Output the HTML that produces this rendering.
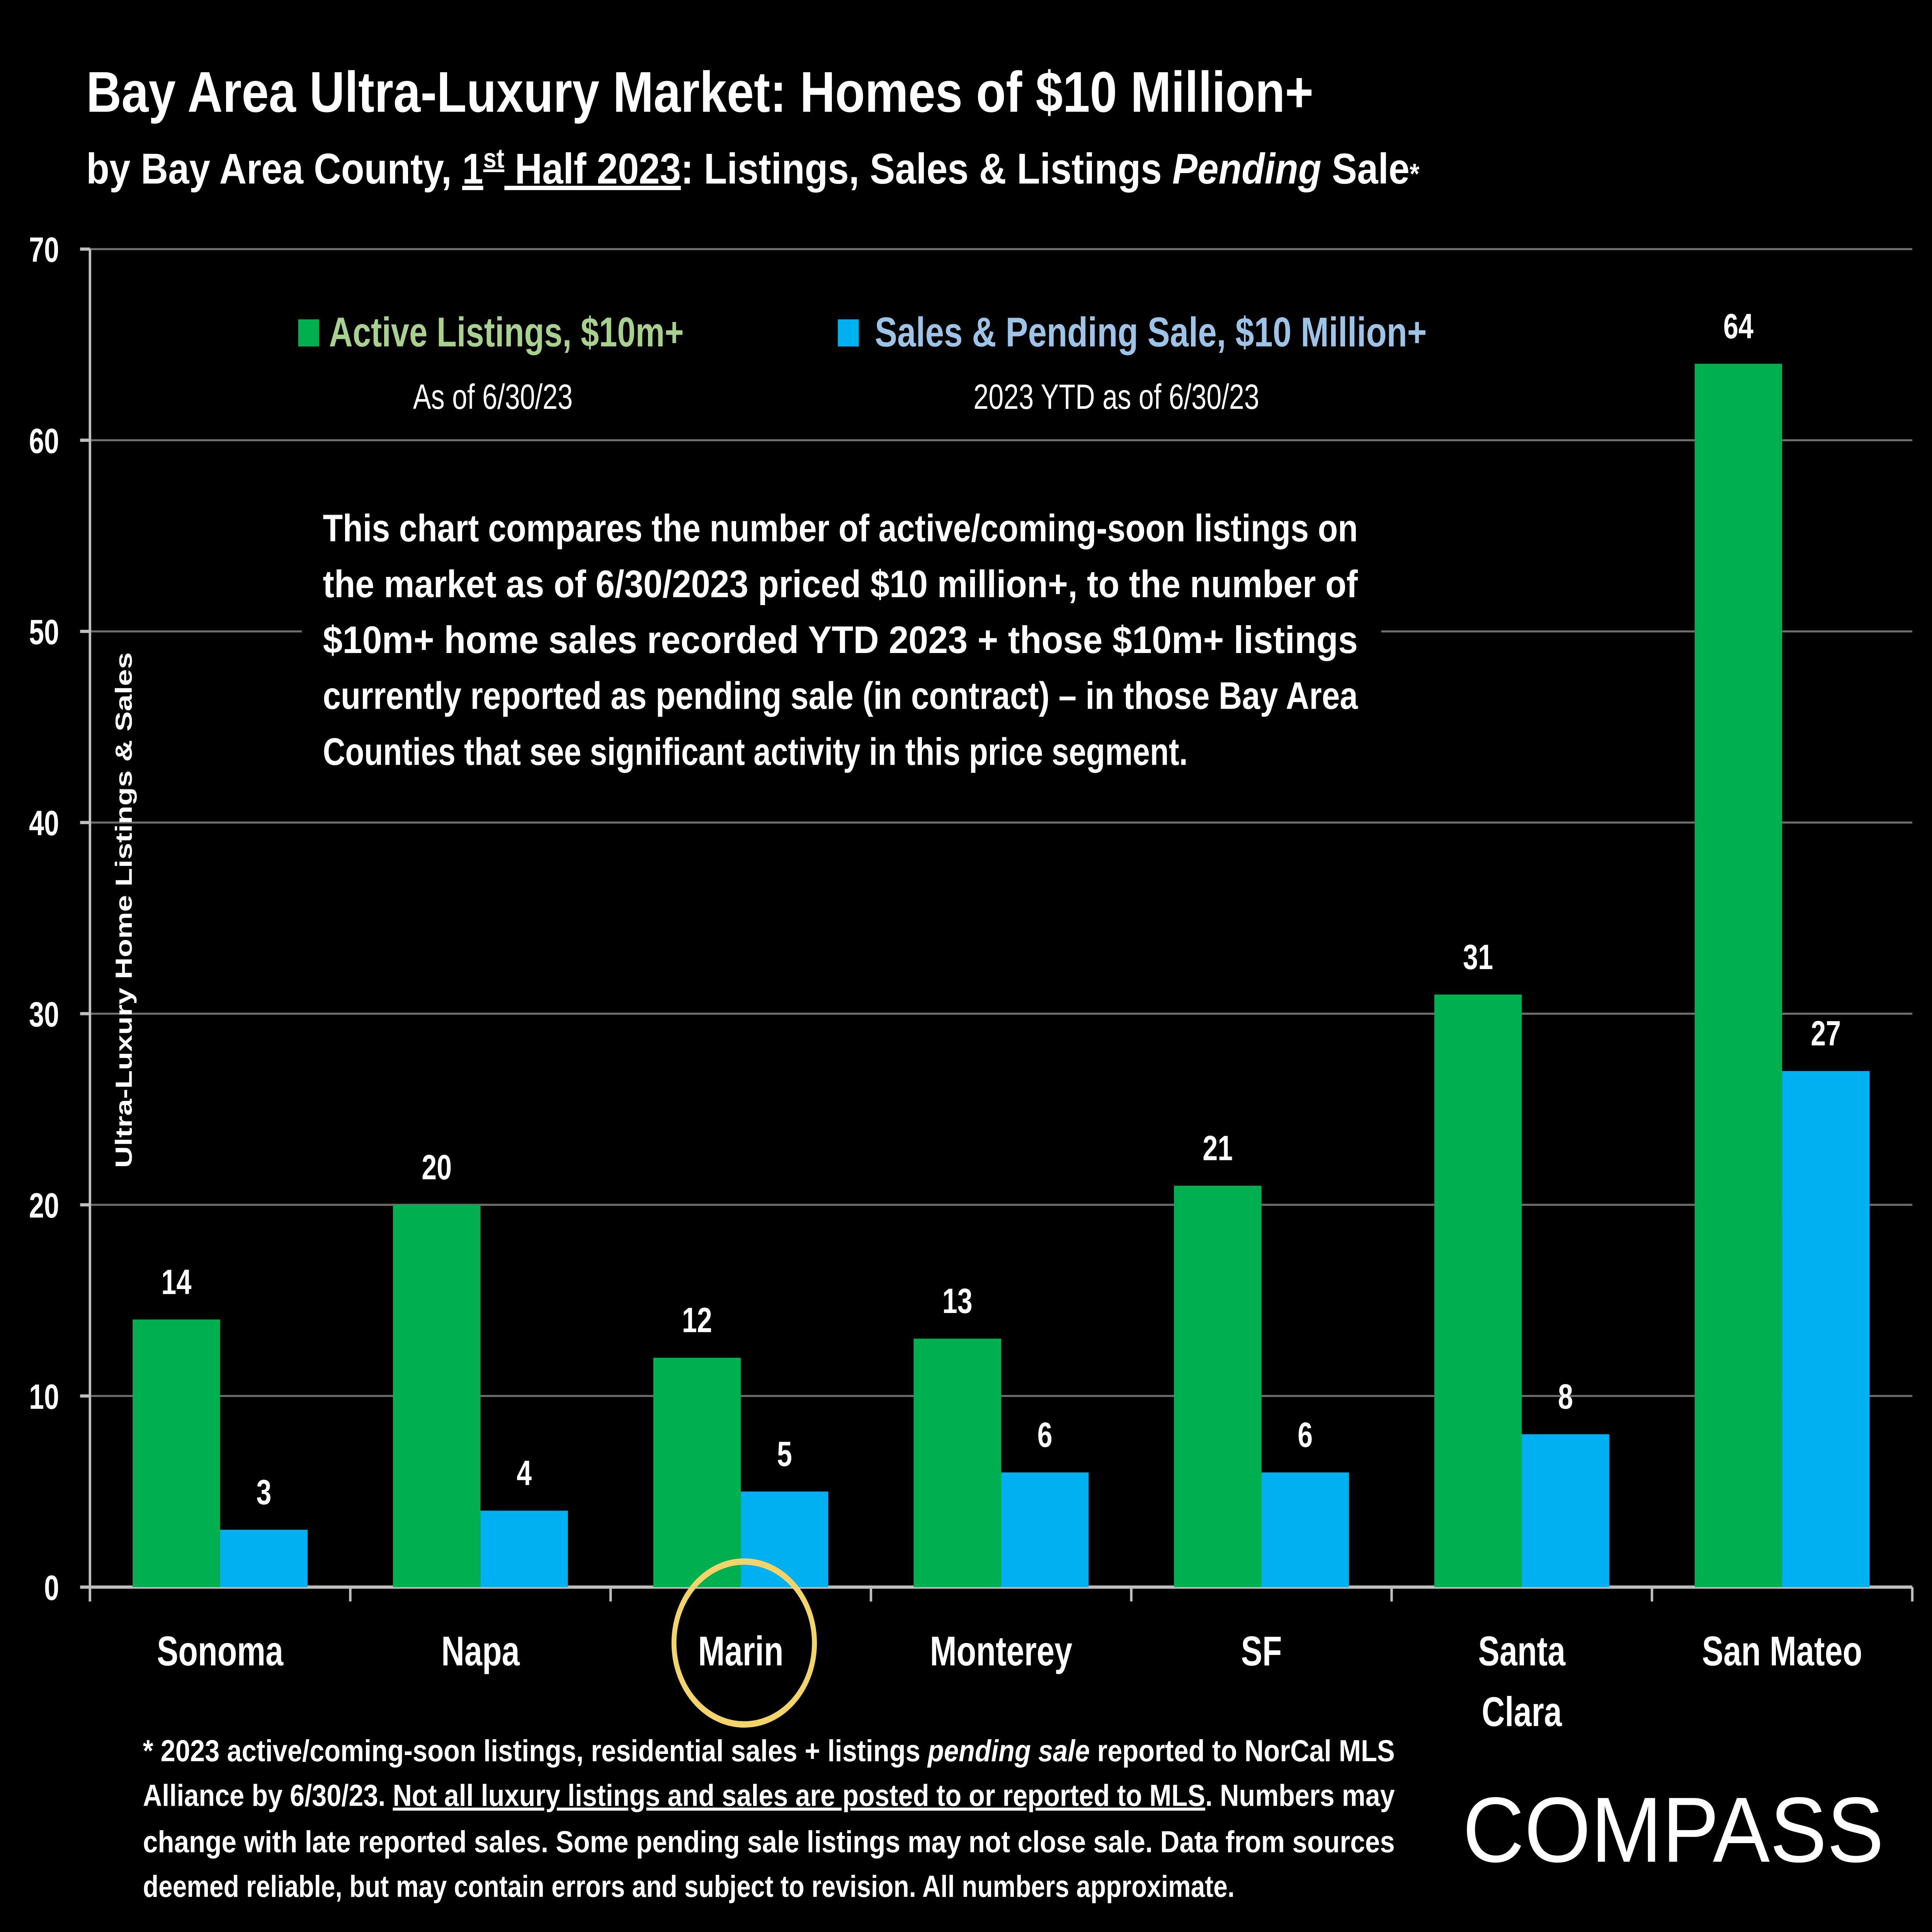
<!DOCTYPE html>
<html><head><meta charset="utf-8"><style>
html,body{margin:0;padding:0;background:#000;width:100%;height:100%;overflow:hidden;}
svg{display:block;width:100vw;height:100vh;font-family:"Liberation Sans",sans-serif;}
</style></head><body>
<svg id="chart" viewBox="0 0 1568 1210" preserveAspectRatio="none" xmlns="http://www.w3.org/2000/svg">
<rect width="1568" height="1210" fill="#000"/>
<text x="70" y="70" fill="#fff" font-size="36" font-weight="bold" textLength="996" lengthAdjust="spacingAndGlyphs">Bay Area Ultra-Luxury Market: Homes of $10 Million+</text>
<text x="70" y="115" fill="#fff" font-size="27" font-weight="bold" textLength="1082" lengthAdjust="spacingAndGlyphs">by Bay Area County, <tspan text-decoration="underline">1<tspan font-size="17" dy="-10">st</tspan><tspan dy="10"> Half 2023</tspan></tspan>:  Listings, Sales &amp; Listings <tspan font-style="italic">Pending</tspan> Sale<tspan font-size="18">*</tspan></text>
<g id="grid"></g>
<g id="bars"></g>
<text transform="translate(107,570) rotate(-90)" text-anchor="middle" fill="#fff" font-size="19" font-weight="bold">Ultra-Luxury Home Listings &amp; Sales</text>
<g>
<rect x="242" y="200" width="17" height="17" fill="#00b050"/>
<text x="267" y="217" fill="#a9d18e" font-size="26" font-weight="bold" textLength="288" lengthAdjust="spacingAndGlyphs">Active Listings, $10m+</text>
<text x="400" y="256" fill="#fff" font-size="22" text-anchor="middle">As of 6/30/23</text>
<rect x="680" y="200" width="17" height="17" fill="#00b0f0"/>
<text x="710" y="217" fill="#9dc3e6" font-size="26" font-weight="bold" textLength="448" lengthAdjust="spacingAndGlyphs">Sales &amp; Pending Sale, $10 Million+</text>
<text x="906" y="256" fill="#fff" font-size="22" text-anchor="middle">2023 YTD as of 6/30/23</text>
</g>
<g fill="#fff" font-size="24" font-weight="bold">
<rect x="245" y="308" width="876" height="182" fill="#000"/>
<text x="262" y="339" textLength="840" lengthAdjust="spacingAndGlyphs">This chart compares the number of active/coming-soon listings on</text>
<text x="262" y="374" textLength="840" lengthAdjust="spacingAndGlyphs">the market as of 6/30/2023 priced $10 million+, to the number of</text>
<text x="262" y="409" textLength="840" lengthAdjust="spacingAndGlyphs">$10m+ home sales recorded YTD 2023 + those $10m+ listings</text>
<text x="262" y="444" textLength="840" lengthAdjust="spacingAndGlyphs">currently reported as pending sale (in contract) – in those Bay Area</text>
<text x="262" y="479" textLength="702" lengthAdjust="spacingAndGlyphs">Counties that see significant activity in this price segment.</text>
</g>
<ellipse cx="604" cy="1029" rx="57" ry="51" fill="none" stroke="#f2d46a" stroke-width="4"/>
<g fill="#fff" font-size="19" font-weight="bold">
<text x="116" y="1103" textLength="1016" lengthAdjust="spacingAndGlyphs">* 2023 active/coming-soon listings, residential sales + listings <tspan font-style="italic">pending sale</tspan> reported to NorCal MLS</text>
<text x="116" y="1131" textLength="1016" lengthAdjust="spacingAndGlyphs">Alliance by 6/30/23. <tspan text-decoration="underline">Not all luxury listings and sales are posted to or reported to MLS</tspan>. Numbers may</text>
<text x="116" y="1160" textLength="1016" lengthAdjust="spacingAndGlyphs">change with late reported sales. Some pending sale listings may not close sale. Data from sources</text>
<text x="116" y="1188" textLength="886" lengthAdjust="spacingAndGlyphs">deemed reliable, but may contain errors and subject to revision. All numbers approximate.</text>
</g>
<text x="1187" y="1166" fill="#fff" font-size="58" textLength="342" lengthAdjust="spacingAndGlyphs">COMPASS</text>
</svg>
<script>
const categories = ["Sonoma","Napa","Marin","Monterey","SF","Santa Clara","San Mateo"];
const activeListings = [14,20,12,13,21,31,64];
const salesPending = [3,4,5,6,6,8,27];
const yTicks = [0,10,20,30,40,50,60,70];

const NS = "http://www.w3.org/2000/svg";
const X0 = 73, X1 = 1552, Y0 = 994, Y70 = 156, YMAX = 70;
const groupW = (X1 - X0) / categories.length;
const barW = 71;
function yScale(v){ return Y0 - (v / YMAX) * (Y0 - Y70); }
function xGroup(i){ return X0 + i * groupW; }
function mk(tag, attrs){ const e = document.createElementNS(NS, tag); for (const k in attrs) e.setAttribute(k, attrs[k]); return e; }

const grid = document.getElementById("grid");
yTicks.forEach(t => {
  const y = yScale(t);
  const gl = mk("line", {x1: X0, x2: X1, y1: y, y2: y, stroke: t === 0 ? "#bfbfbf" : "#6e6e6e", "stroke-width": t === 0 ? 2 : 1.3});
  
  
  grid.appendChild(gl);
  const tk = mk("line", {x1: X0 - 8, x2: X0, y1: y, y2: y, stroke: "#bfbfbf", "stroke-width": 2});
  
  
  grid.appendChild(tk);
  const lb = mk("text", {x: 48, y: y + 8, "text-anchor": "end", fill: "#fff", "font-size": 22, "font-weight": "bold"});
  lb.textContent = t;
  
  
  grid.appendChild(lb);
});
const ax = mk("line", {x1: X0, x2: X0, y1: Y70, y2: Y0 + 9, stroke: "#bfbfbf", "stroke-width": 2});


grid.appendChild(ax);
for (let i = 0; i <= categories.length; i++) {
  const x = xGroup(i);
  const t = mk("line", {x1: x, x2: x, y1: Y0, y2: Y0 + 9, stroke: "#bfbfbf", "stroke-width": 2});
  
  
  grid.appendChild(t);
}

const bars = document.getElementById("bars");
categories.forEach((c, i) => {
  const gx = xGroup(i) + (groupW - 2 * barW) / 2;
  const series = [[activeListings[i], "#00b050", "bar-active"], [salesPending[i], "#00b0f0", "bar-sales"]];
  series.forEach((s, j) => {
    const x = gx + j * barW, y = yScale(s[0]);
    const r = mk("rect", {x: x, y: y, width: barW, height: Y0 - y, fill: s[1]});
    
    
    bars.appendChild(r);
    const v = mk("text", {x: x + barW / 2, y: y - 16, "text-anchor": "middle", fill: "#fff", "font-size": 22, "font-weight": "bold"});
    v.textContent = s[0];
    
    
    bars.appendChild(v);
  });
  const cx = xGroup(i) + groupW / 2;
  const words = c === "Santa Clara" ? ["Santa", "Clara"] : [c];
  words.forEach((w, k) => {
    const t = mk("text", {x: cx, y: 1043 + k * 38, "text-anchor": "middle", fill: "#fff", "font-size": 26, "font-weight": "bold"});
    t.textContent = w;
    
    
    bars.appendChild(t);
  });
});
</script>
</body></html>
